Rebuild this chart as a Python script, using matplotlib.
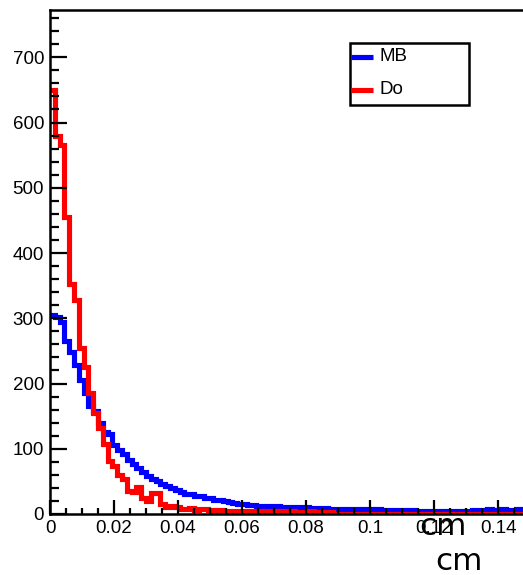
import numpy as np
import matplotlib
matplotlib.use("Agg")
import matplotlib.pyplot as plt
from matplotlib.patches import Rectangle
from matplotlib.ticker import MultipleLocator, FixedLocator, FixedFormatter

# 100 bins of width 0.0015 cm from 0 to 0.15
bin_width = 0.0015
n_bins = 100

mb_counts = [305, 302, 295, 265, 248, 228, 205, 185, 165, 158,
             140, 126, 122, 106, 98, 92, 83, 76, 70, 64,
             58, 54, 50, 46, 43, 40, 37, 34, 31, 30,
             28, 27, 25, 24, 22, 21, 20, 19, 17, 16,
             15, 14, 14, 13, 13, 12, 12, 12, 11, 11,
             11, 10, 10, 10, 9, 9, 9, 9, 8, 8,
             8, 8, 7, 7, 7, 7, 7, 6, 7, 6,
             6, 6, 6, 6, 5, 6, 5, 4, 4, 4,
             3, 4, 3, 4, 3, 4, 3, 4, 6, 6,
             5, 7, 6, 6, 7, 6, 5, 7, 6, 5]

do_counts = [650, 580, 566, 455, 352, 328, 255, 225, 186, 155,
             132, 108, 82, 74, 60, 54, 36, 33, 41, 25,
             20, 32, 32, 16, 11, 12, 10, 8, 7, 9,
             6, 7, 8, 6, 5, 6, 4, 5, 5, 4,
             5, 4, 5, 4, 3, 5, 4, 3, 4, 3,
             4, 3, 2, 3, 4, 2, 3, 2, 3, 0] + [0] * 40

series_names = ["MB", "Do"]
series_colors = ["#0000ff", "#ff0000"]

x_ticks = [0, 0.02, 0.04, 0.06, 0.08, 0.1, 0.12, 0.14]
x_tick_labels = ["0", "0.02", "0.04", "0.06", "0.08", "0.1", "0.12", "0.14"]
y_ticks = [0, 100, 200, 300, 400, 500, 600, 700]
y_tick_labels = ["0", "100", "200", "300", "400", "500", "600", "700"]
axis_unit = "cm"

ROOT_FONT = "Liberation Sans"


def draw_histograms(ax):
    edges = np.arange(n_bins + 1) * bin_width
    # MB first, Do drawn on top
    for counts, color in zip([mb_counts, do_counts], series_colors):
        ax.stairs(counts, edges, baseline=None, color=color, linewidth=3.7,
                  joinstyle="miter")


def style_axes(ax):
    ax.set_xlim(0, 0.1478)
    ax.set_ylim(0, 772.5)

    ax.xaxis.set_major_locator(FixedLocator(x_ticks))
    ax.xaxis.set_major_formatter(FixedFormatter(x_tick_labels))
    ax.xaxis.set_minor_locator(MultipleLocator(0.005))
    ax.yaxis.set_major_locator(FixedLocator(y_ticks))
    ax.yaxis.set_major_formatter(FixedFormatter(y_tick_labels))
    ax.yaxis.set_minor_locator(MultipleLocator(20))

    ax.tick_params(axis="both", which="both", direction="in", color="black",
                   width=1.6, top=False, right=False)
    ax.tick_params(axis="x", which="major", length=10, pad=4)
    ax.tick_params(axis="x", which="minor", length=4.5)
    ax.tick_params(axis="y", which="major", length=12.5, pad=4.3)
    ax.tick_params(axis="y", which="minor", length=6.5)
    for lab in ax.get_xticklabels() + ax.get_yticklabels():
        lab.set_fontfamily(ROOT_FONT)
        lab.set_fontsize(13.5)

    for side in ["left", "bottom", "top"]:
        ax.spines[side].set_linewidth(1.8)
        ax.spines[side].set_color("black")
    ax.spines["right"].set_visible(False)


def draw_legend(ax):
    # box drawn the way ROOT does it: plain frame, short lines at the edge
    box = Rectangle((0.634, 0.8115), 0.252, 0.1235, transform=ax.transAxes,
                    facecolor="white", edgecolor="black", linewidth=1.8,
                    zorder=5)
    ax.add_patch(box)
    rows = [0.907, 0.842]
    for name, color, y in zip(series_names, series_colors, rows):
        ax.plot([0.636, 0.683], [y, y], transform=ax.transAxes, color=color,
                linewidth=3.7, solid_capstyle="butt", zorder=6)
        ax.text(0.696, y, name, transform=ax.transAxes, ha="left",
                va="center", fontsize=13.5, family=ROOT_FONT, zorder=6)


def main():
    fig = plt.figure(figsize=(5.23, 5.75), dpi=100)
    ax = fig.add_axes([50 / 523, 61 / 575, 473 / 523, 504 / 575])

    draw_histograms(ax)
    style_axes(ax)
    draw_legend(ax)

    fig.text(443 / 523, 1 - 535 / 575, axis_unit, ha="center",
             va="baseline", fontsize=22.3)
    fig.text(458.5 / 523, 1 - 570 / 575, axis_unit, ha="center",
             va="baseline", fontsize=22.3)

    fig.savefig("out.png", dpi=100)


main()
